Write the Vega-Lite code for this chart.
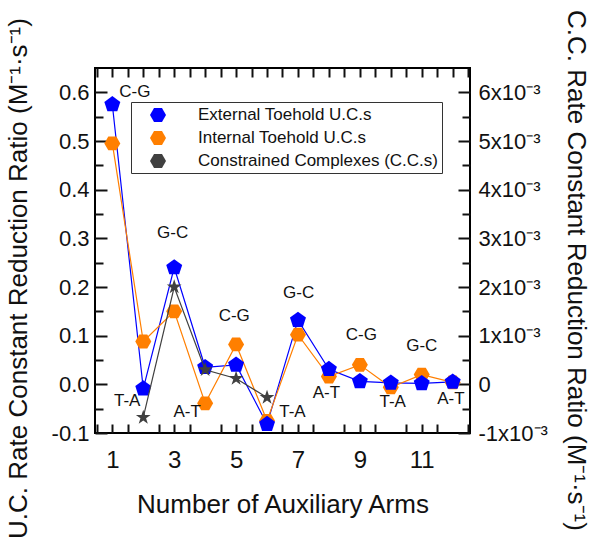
{
  "$schema": "https://vega.github.io/schema/vega-lite/v6.json",
  "width": 375,
  "height": 365,
  "autosize": {"type": "none"},
  "padding": {"left": 95, "top": 68, "right": 120, "bottom": 107},
  "config": {
    "view": {"stroke": "#000", "strokeWidth": 2},
    "font": "Liberation Sans",
    "axis": {"domain": false, "grid": false, "labelFont": "Liberation Sans", "titleFont": "Liberation Sans", "labelColor": "#111", "titleColor": "#111", "tickColor": "#111", "tickWidth": 2, "titleFontWeight": "normal", "labelOverlap": false, "labelFlush": false}
  },
  "datasets": {
    "uc": [
      {"arms": 1, "value": 0.575, "series": "External Toehold U.C.s"},
      {"arms": 2, "value": -0.009, "series": "External Toehold U.C.s"},
      {"arms": 3, "value": 0.24, "series": "External Toehold U.C.s"},
      {"arms": 4, "value": 0.035, "series": "External Toehold U.C.s"},
      {"arms": 5, "value": 0.04, "series": "External Toehold U.C.s"},
      {"arms": 6, "value": -0.082, "series": "External Toehold U.C.s"},
      {"arms": 7, "value": 0.132, "series": "External Toehold U.C.s"},
      {"arms": 8, "value": 0.031, "series": "External Toehold U.C.s"},
      {"arms": 9, "value": 0.006, "series": "External Toehold U.C.s"},
      {"arms": 10, "value": 0.003, "series": "External Toehold U.C.s"},
      {"arms": 11, "value": 0.002, "series": "External Toehold U.C.s"},
      {"arms": 12, "value": 0.005, "series": "External Toehold U.C.s"},
      {"arms": 1, "value": 0.495, "series": "Internal Toehold U.C.s"},
      {"arms": 2, "value": 0.088, "series": "Internal Toehold U.C.s"},
      {"arms": 3, "value": 0.15, "series": "Internal Toehold U.C.s"},
      {"arms": 4, "value": -0.039, "series": "Internal Toehold U.C.s"},
      {"arms": 5, "value": 0.082, "series": "Internal Toehold U.C.s"},
      {"arms": 6, "value": -0.075, "series": "Internal Toehold U.C.s"},
      {"arms": 7, "value": 0.102, "series": "Internal Toehold U.C.s"},
      {"arms": 8, "value": 0.016, "series": "Internal Toehold U.C.s"},
      {"arms": 9, "value": 0.04, "series": "Internal Toehold U.C.s"},
      {"arms": 10, "value": -0.006, "series": "Internal Toehold U.C.s"},
      {"arms": 11, "value": 0.02, "series": "Internal Toehold U.C.s"},
      {"arms": 12, "value": 0.004, "series": "Internal Toehold U.C.s"}
    ],
    "cc": [
      {"arms": 2, "value": -0.00068, "series": "Constrained Complexes (C.C.s)"},
      {"arms": 3, "value": 0.002, "series": "Constrained Complexes (C.C.s)"},
      {"arms": 4, "value": 0.0003, "series": "Constrained Complexes (C.C.s)"},
      {"arms": 5, "value": 0.00012, "series": "Constrained Complexes (C.C.s)"},
      {"arms": 6, "value": -0.00027, "series": "Constrained Complexes (C.C.s)"}
    ],
    "labels": [
      {"x": 1.73, "y": 0.6, "label": "C-G"},
      {"x": 1.48, "y": -0.035, "label": "T-A"},
      {"x": 2.95, "y": 0.31, "label": "G-C"},
      {"x": 3.42, "y": -0.057, "label": "A-T"},
      {"x": 4.94, "y": 0.141, "label": "C-G"},
      {"x": 6.82, "y": -0.057, "label": "T-A"},
      {"x": 7.02, "y": 0.188, "label": "G-C"},
      {"x": 7.92, "y": -0.017, "label": "A-T"},
      {"x": 9.05, "y": 0.102, "label": "C-G"},
      {"x": 10.06, "y": -0.037, "label": "T-A"},
      {"x": 11.0, "y": 0.078, "label": "G-C"},
      {"x": 11.94, "y": -0.031, "label": "A-T"}
    ]
  },
  "layer": [
    {
      "layer": [
        {
          "data": {"name": "uc"},
          "transform": [{"filter": "datum.series == 'External Toehold U.C.s'"}],
          "mark": {"type": "line", "strokeWidth": 1.2, "color": "#0000ff"},
          "encoding": {
            "x": {"field": "arms", "type": "quantitative", "scale": {"domain": [0.44, 12.56], "nice": false, "zero": false},
              "axis": {"orient": "bottom", "values": [1,2,3,4,5,6,7,8,9,10,11,12], "format": "d",
                "tickSize": -9, "labelPadding": 24, "labelFontSize": 24,
                "title": "Number of Auxiliary Arms", "titleFontSize": 26, "titleY": 79, "titleBaseline": "alphabetic"}},
            "y": {"field": "value", "type": "quantitative", "scale": {"domain": [-0.1, 0.65], "nice": false, "zero": false},
              "axis": {"orient": "left", "values": [-0.1,0,0.1,0.2,0.3,0.4,0.5,0.6],
                "labelExpr": "datum.value < 0 ? '-' + format(-datum.value, '.1f') : format(datum.value, '.1f')",
                "tickSize": -12, "labelPadding": 18, "labelFontSize": 22,
                "title": "U.C. Rate Constant Reduction Ratio (M⁻¹·s⁻¹)", "titleFontSize": 26, "titleAngle": -90, "titleX": -77, "titleY": 210, "titleAlign": "center", "titleBaseline": "middle"}}
          }
        },
        {
          "data": {"name": "uc"},
          "transform": [{"filter": "datum.series == 'Internal Toehold U.C.s'"}],
          "mark": {"type": "line", "strokeWidth": 1.2, "color": "#ff7f00"},
          "encoding": {
            "x": {"field": "arms", "type": "quantitative", "scale": {"domain": [0.44, 12.56], "nice": false, "zero": false}},
            "y": {"field": "value", "type": "quantitative", "scale": {"domain": [-0.1, 0.65], "nice": false, "zero": false}}
          }
        },
        {
          "data": {"name": "uc"},
          "transform": [{"filter": "datum.series == 'Internal Toehold U.C.s'"}],
          "mark": {"type": "point", "shape": "M1,0L0.5,0.866L-0.5,0.866L-1,0L-0.5,-0.866L0.5,-0.866Z", "filled": true, "size": 256, "opacity": 1},
          "encoding": {
            "x": {"field": "arms", "type": "quantitative", "scale": {"domain": [0.44, 12.56], "nice": false, "zero": false}},
            "y": {"field": "value", "type": "quantitative", "scale": {"domain": [-0.1, 0.65], "nice": false, "zero": false}},
            "color": {"field": "series", "type": "nominal", "scale": {"domain": ["External Toehold U.C.s", "Internal Toehold U.C.s", "Constrained Complexes (C.C.s)"], "range": ["#0000ff", "#ff7f00", "#404040"]},
              "legend": {"orient": "none", "legendX": 36, "legendY": 34, "title": null, "padding": 4, "strokeColor": "#333", "fillColor": "#ffffff",
                "labelFont": "Liberation Sans", "labelFontSize": 17, "labelColor": "#111", "labelLimit": 0, "symbolSize": 256, "symbolOffset": 14, "labelOffset": 31, "rowPadding": 6, "symbolStrokeWidth": 1.2,
                "labelExpr": "datum.value == 'Internal Toehold U.C.s' ? '\u00a0' + datum.label : datum.label",
                "encode": {"symbols": {
                  "shape": {"condition": [
                    {"test": "datum.value == 'External Toehold U.C.s'", "value": "M-2.75,0H2.75M0,-1L0.951,-0.309L0.588,0.809L-0.588,0.809L-0.951,-0.309Z"},
                    {"test": "datum.value == 'Internal Toehold U.C.s'", "value": "M-2.75,0H2.75M1,0L0.5,0.866L-0.5,0.866L-1,0L-0.5,-0.866L0.5,-0.866Z"}],
                    "value": "M-2.75,0H2.75M0,-1L0.225,-0.309L0.951,-0.309L0.363,0.118L0.588,0.809L0,0.382L-0.588,0.809L-0.363,0.118L-0.951,-0.309L-0.225,-0.309Z"},
                  "stroke": {"condition": [
                    {"test": "datum.value == 'External Toehold U.C.s'", "value": "#0000ff"},
                    {"test": "datum.value == 'Internal Toehold U.C.s'", "value": "#ff7f00"}],
                    "value": "#404040"},
                  "strokeWidth": {"value": 1.2},
                  "strokeOpacity": {"value": 1},
                  "opacity": {"value": 1}
                }}}}
          }
        },
        {
          "data": {"name": "labels"},
          "mark": {"type": "text", "fontSize": 17, "font": "Liberation Sans", "color": "#111", "align": "center", "baseline": "middle"},
          "encoding": {
            "x": {"field": "x", "type": "quantitative", "scale": {"domain": [0.44, 12.56], "nice": false, "zero": false}},
            "y": {"field": "y", "type": "quantitative", "scale": {"domain": [-0.1, 0.65], "nice": false, "zero": false}},
            "text": {"field": "label"}
          }
        }
      ]
    },
    {
      "data": {"name": "uc"},
      "transform": [{"filter": "datum.series == 'External Toehold U.C.s'"}],
      "mark": {"type": "point", "shape": "M0,-1L0.951,-0.309L0.588,0.809L-0.588,0.809L-0.951,-0.309Z", "filled": true, "size": 282, "opacity": 1},
      "encoding": {
        "x": {"field": "arms", "type": "quantitative", "scale": {"domain": [0.44, 12.56], "nice": false, "zero": false},
          "axis": {"orient": "bottom", "values": [0.5,1.5,2.5,3.5,4.5,5.5,6.5,7.5,8.5,9.5,10.5,11.5,12.5], "labels": false, "tickSize": -9, "title": null}},
        "y": {"field": "value", "type": "quantitative", "scale": {"domain": [-0.1, 0.65], "nice": false, "zero": false},
          "axis": {"orient": "left", "values": [-0.05,0.05,0.15,0.25,0.35,0.45,0.55], "labels": false, "tickSize": -8, "title": null}},
        "color": {"field": "series", "type": "nominal", "scale": {"domain": ["External Toehold U.C.s", "Internal Toehold U.C.s", "Constrained Complexes (C.C.s)"], "range": ["#0000ff", "#ff7f00", "#404040"]}}
      }
    },
    {
      "data": {"name": "cc"},
      "mark": {"type": "line", "strokeWidth": 1.2, "color": "#404040"},
      "encoding": {
        "x": {"field": "arms", "type": "quantitative", "scale": {"domain": [0.44, 12.56], "nice": false, "zero": false},
          "axis": {"orient": "top", "values": [0.5,1,1.5,2,2.5,3,3.5,4,4.5,5,5.5,6,6.5,7,7.5,8,8.5,9,9.5,10,10.5,11,11.5,12,12.5], "labels": false, "tickSize": -9, "title": null}},
        "y": {"field": "value", "type": "quantitative", "scale": {"domain": [-0.001, 0.0065], "nice": false, "zero": false},
          "axis": {"orient": "right", "values": [-0.001,0,0.001,0.002,0.003,0.004,0.005,0.006],
            "labelExpr": "abs(datum.value) < 0.00001 ? '0' : '' + round(datum.value*1000) + 'x10⁻³'",
            "tickSize": -12, "labelPadding": 20, "labelFontSize": 22,
            "title": "C.C. Rate Constant Reduction Ratio (M⁻¹·s⁻¹)", "titleFontSize": 26, "titleAngle": 90, "titleX": 105, "titleY": 202, "titleAlign": "center", "titleBaseline": "middle"}}
      }
    },
    {
      "data": {"name": "cc"},
      "mark": {"type": "point", "shape": "M0,-1L0.225,-0.309L0.951,-0.309L0.363,0.118L0.588,0.809L0,0.382L-0.588,0.809L-0.363,0.118L-0.951,-0.309L-0.225,-0.309Z", "filled": true, "size": 240, "opacity": 1},
      "encoding": {
        "x": {"field": "arms", "type": "quantitative", "scale": {"domain": [0.44, 12.56], "nice": false, "zero": false}, "axis": null},
        "y": {"field": "value", "type": "quantitative", "scale": {"domain": [-0.001, 0.0065], "nice": false, "zero": false},
          "axis": {"orient": "right", "values": [-0.0005,0.0005,0.0015,0.0025,0.0035,0.0045,0.0055], "labels": false, "tickSize": -8, "title": null}},
        "color": {"field": "series", "type": "nominal", "scale": {"domain": ["External Toehold U.C.s", "Internal Toehold U.C.s", "Constrained Complexes (C.C.s)"], "range": ["#0000ff", "#ff7f00", "#404040"]}}
      }
    }
  ],
  "resolve": {"scale": {"y": "independent"}}
}
